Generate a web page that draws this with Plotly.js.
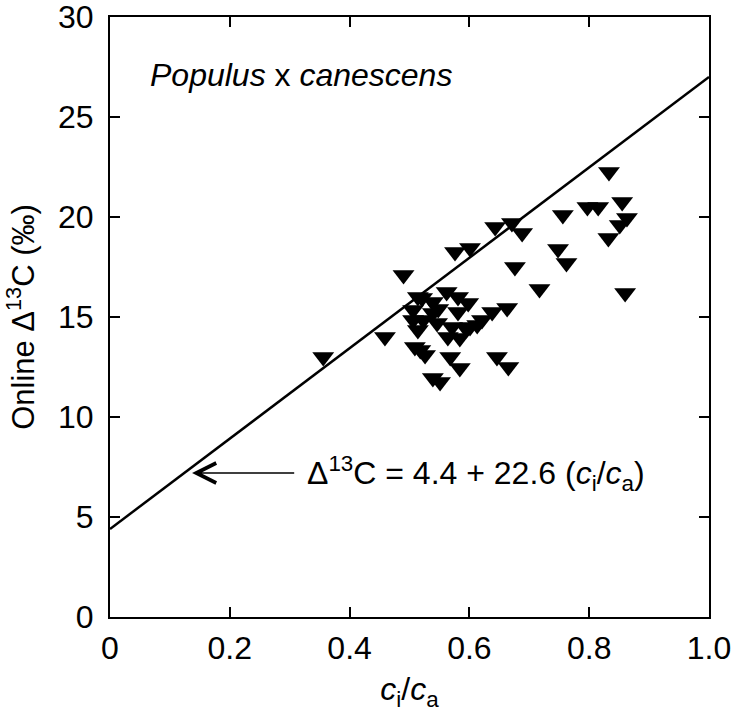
<!DOCTYPE html>
<html>
<head>
<meta charset="utf-8">
<script src="https://cdn.plot.ly/plotly-3.0.1.min.js"></script>
<style>
  html, body { margin: 0; padding: 0; background: #fff; }
  #chart { width: 733px; height: 725px; }
</style>
</head>
<body>
<div id="chart"></div>
<script>
// ci/ca ratio and online discrimination
const ciCa = [
    0.356, 0.459, 0.490, 0.514, 0.506, 0.509, 0.521, 0.539, 0.506, 0.523,
    0.546, 0.539, 0.514, 0.518, 0.526, 0.539, 0.551, 0.568, 0.584, 0.564,
    0.584, 0.562, 0.581, 0.598, 0.581, 0.571, 0.601, 0.613, 0.621, 0.638,
    0.663, 0.646, 0.665, 0.576, 0.601, 0.643, 0.671, 0.688, 0.676, 0.717,
    0.748, 0.762, 0.756, 0.797, 0.815, 0.833, 0.855, 0.863, 0.851, 0.832,
    0.860, 0.548, 0.595
];
const delta13C = [
    13.0, 14.0, 17.1, 16.0, 14.85, 13.5, 15.95, 15.75, 15.35, 14.85,
    14.7, 15.2, 14.35, 13.35, 13.1, 11.95, 11.75, 13.0, 12.45, 14.0,
    13.95, 16.25, 16.0, 15.7, 15.25, 14.5, 14.5, 14.6, 14.85, 15.25,
    15.45, 13.0, 12.5, 18.25, 18.45, 19.5, 19.7, 19.2, 17.5, 16.4,
    18.4, 17.7, 20.1, 20.5, 20.5, 22.25, 20.75, 19.95, 19.6, 18.95,
    16.2, 15.4, 14.4
];

// regression line from the equation in the figure
const fitIntercept = 4.4;
const fitSlope = 22.6;
const fitRange = [0, 1];

const xTickVals = [0, 0.2, 0.4, 0.6, 0.8, 1.0];
const xTickText = ['0', '0.2', '0.4', '0.6', '0.8', '1.0'];
const yTickVals = [0, 5, 10, 15, 20, 25, 30];

const fontFamily = '"Liberation Sans", Arial, sans-serif';
const textSize = 32;

const traces = [
    {
        x: fitRange,
        y: fitRange.map(v => fitIntercept + fitSlope * v),
        type: 'scatter',
        mode: 'lines',
        line: { color: '#000', width: 2.5 },
        hoverinfo: 'skip'
    },
    {
        x: ciCa,
        y: delta13C,
        type: 'scatter',
        mode: 'markers',
        marker: {
            symbol: 'triangle-down',
            size: 19,
            color: '#000',
            line: { width: 0 }
        }
    }
];

const axisCommon = {
    showline: true,
    linecolor: '#000',
    linewidth: 2,
    mirror: 'ticks',
    ticks: 'inside',
    ticklen: 10,
    tickwidth: 2,
    tickcolor: '#000',
    showgrid: false,
    zeroline: false,
    ticklabeloverflow: 'allow',
    tickfont: { family: fontFamily, size: textSize, color: '#000' }
};

const layout = {
    width: 733,
    height: 725,
    margin: { l: 110, r: 24, t: 17, b: 108 },
    paper_bgcolor: '#fff',
    plot_bgcolor: '#fff',
    showlegend: false,
    font: { family: fontFamily, color: '#000' },
    xaxis: Object.assign({}, axisCommon, {
        range: [0, 1],
        tickmode: 'array',
        tickvals: xTickVals,
        ticktext: xTickText,
        ticklabelstandoff: 2,
        title: {
            text: '<i>c</i><sub>i</sub>/<i>c</i><sub>a</sub>',
            font: { family: fontFamily, size: textSize, color: '#000' },
            standoff: 12
        }
    }),
    yaxis: Object.assign({}, axisCommon, {
        range: [0, 30],
        tickmode: 'array',
        tickvals: yTickVals,
        ticklabelstandoff: 8,
        title: {
            text: 'Online Δ<sup>13</sup>C (‰)',
            font: { family: fontFamily, size: 31, color: '#000' },
            standoff: 14
        }
    }),
    annotations: [
        {
            x: 0.063,
            y: 27.1,
            xref: 'x',
            yref: 'y',
            xanchor: 'left',
            yanchor: 'middle',
            showarrow: false,
            text: '<i>Populus</i> x <i>canescens</i>',
            font: { family: fontFamily, size: textSize, color: '#000' }
        },
        {
            x: 0.137,
            y: 7.2,
            ax: 0.31,
            ay: 7.2,
            xref: 'x',
            yref: 'y',
            axref: 'x',
            ayref: 'y',
            text: '',
            showarrow: true,
            arrowhead: 5,
            arrowsize: 2.6,
            arrowwidth: 1.5,
            arrowcolor: '#000'
        },
        {
            x: 0.325,
            y: 7.2,
            xref: 'x',
            yref: 'y',
            xanchor: 'left',
            yanchor: 'middle',
            showarrow: false,
            text: 'Δ<sup>13</sup>C = 4.4 + 22.6 (<i>c</i><sub>i</sub>/<i>c</i><sub>a</sub>)',
            font: { family: fontFamily, size: textSize, color: '#000' }
        }
    ]
};

const config = {
    responsive: false,
    displayModeBar: false,
    staticPlot: true
};

Plotly.newPlot('chart', traces, layout, config);
</script>
</body>
</html>
